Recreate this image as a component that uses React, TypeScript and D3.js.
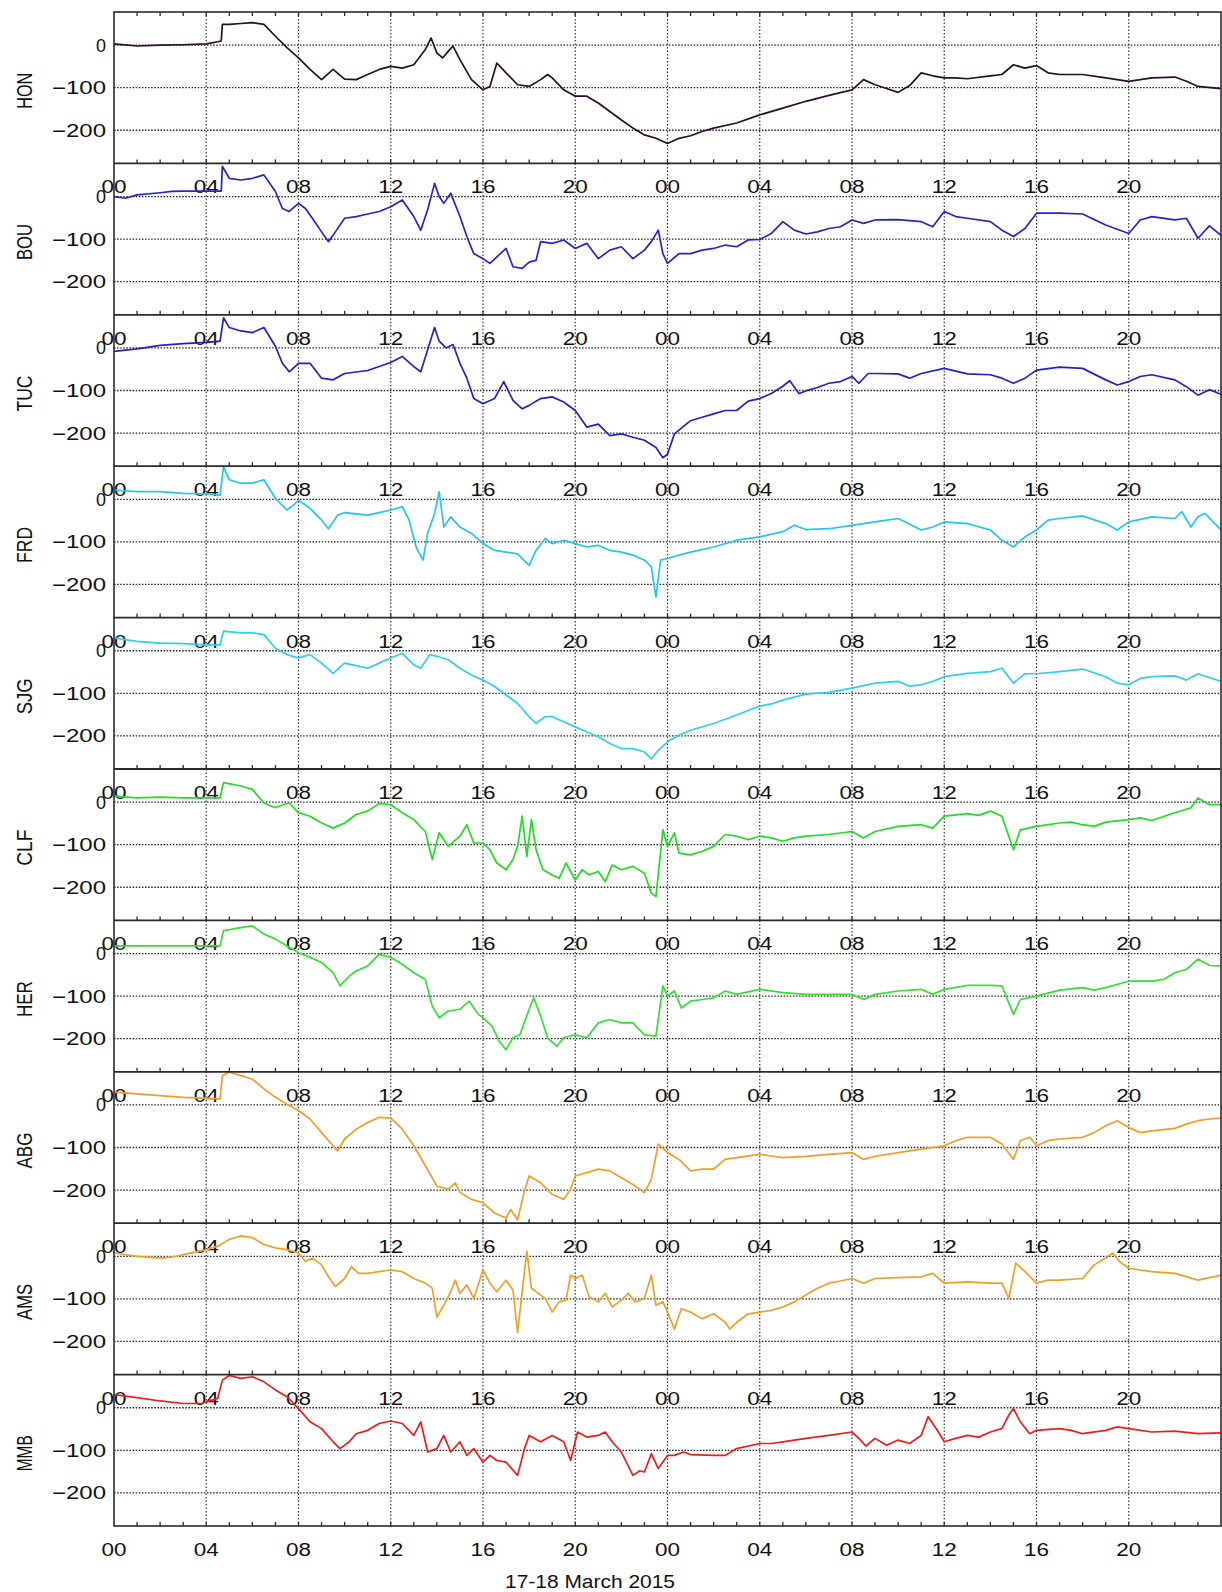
import React from 'react';
import * as d3 from 'd3';

// Magnetometer H-component disturbance (nT) at ten stations, 17–18 March 2015.
// Each series: [hour since 00 UT on 17 March, value].

const HOUR_TICKS = [0, 4, 8, 12, 16, 20, 24, 28, 32, 36, 40, 44];
const HOUR_LABELS = ['00', '04', '08', '12', '16', '20', '00', '04', '08', '12', '16', '20'];
const Y_TICKS = [0, -100, -200];
const Y_LABELS = ['0', '\u2212100', '\u2212200'];
const STATIONS = ['HON', 'BOU', 'TUC', 'FRD', 'SJG', 'CLF', 'HER', 'ABG', 'AMS', 'MMB'];
const COLORS = ['#2a0f2a', '#2424d4', '#2222c8', '#22c8e8', '#30d0e8', '#22dd22', '#33e033', '#f0a028', '#f0a028', '#ee1c1c'];
const TITLE = '17-18 March 2015';

const HON: [number, number][] = [
  [0, 3], [1, -2], [2, 0], [3, 1], [4, 3], [4.5, 8], [4.65, 10], [4.7, 49], [5, 49], [5.5, 51], [6, 53], [6.5, 49],
  [7, 21], [7.5, -6], [8, -30], [8.5, -57], [9, -81], [9.5, -57], [10, -80], [10.5, -81], [11, -69], [11.5, -57],
  [12, -50], [12.5, -54], [13, -46], [13.5, -10], [13.75, 17], [14, -18], [14.25, -30], [14.5, -14], [14.7, -2],
  [15, -34], [15.5, -81], [16, -105], [16.3, -97], [16.6, -42], [17, -65], [17.5, -93], [18, -97], [18.5, -81],
  [18.8, -69], [19, -77], [19.5, -105], [20, -120], [20.5, -120], [21, -136], [21.5, -156], [22, -176], [22.5, -195],
  [23, -211], [23.5, -219], [24, -231], [24.5, -219], [25, -213], [25.5, -203], [26, -195], [27, -183], [28, -164],
  [29, -148], [30, -132], [31, -118], [32, -105], [32.5, -81], [33, -93], [33.5, -102], [34, -111], [34.5, -95],
  [35, -65], [35.5, -72], [36, -77], [36.5, -77], [37, -79], [38, -72], [38.5, -69], [39, -46], [39.5, -54],
  [40, -48], [40.5, -65], [41, -69], [42, -69], [43, -77], [44, -85], [45, -77], [46, -75], [46.5, -85], [47, -97], [48, -102],
];

const BOU: [number, number][] = [
  [0, 0], [0.5, -4], [1, 4], [2, 9], [2.5, 12], [3, 13], [4, 13], [4.65, 13], [4.7, 71], [5, 43], [5.5, 39], [6, 43],
  [6.5, 51], [7, 12], [7.3, -28], [7.6, -35], [8, -16], [8.3, -28], [8.6, -51], [9, -83], [9.3, -106], [9.6, -83],
  [10, -51], [10.5, -47], [11, -41], [11.5, -35], [12, -24], [12.5, -8], [13, -47], [13.3, -79], [13.6, -31],
  [13.9, 31], [14.1, 0], [14.3, -16], [14.6, 8], [15, -47], [15.3, -94], [15.6, -134], [16, -146], [16.3, -157],
  [16.6, -142], [17, -122], [17.3, -165], [17.7, -169], [18, -154], [18.3, -150], [18.5, -106], [19, -110],
  [19.5, -102], [20, -122], [20.5, -110], [21, -146], [21.5, -126], [22, -118], [22.5, -146], [23, -126],
  [23.3, -106], [23.6, -79], [23.8, -134], [24, -157], [24.5, -134], [25, -134], [25.5, -126], [26, -122],
  [26.5, -114], [27, -118], [27.5, -102], [28, -101], [28.5, -87], [29, -59], [29.5, -79], [30, -88], [30.5, -83],
  [31, -75], [31.5, -71], [32, -55], [32.5, -63], [33, -55], [34, -54], [35, -59], [35.5, -71], [36, -35],
  [36.5, -47], [37, -51], [38, -59], [38.5, -79], [39, -94], [39.5, -75], [40, -39], [41, -39], [42, -41],
  [43, -67], [43.5, -77], [44, -87], [44.5, -55], [45, -47], [46, -55], [46.5, -51], [47, -98], [47.5, -69], [48, -91],
];

const TUC: [number, number][] = [
  [0, -8], [1, -2], [2, 6], [3, 10], [4, 13], [4.6, 16], [4.75, 71], [5, 48], [5.5, 40], [6, 36], [6.5, 48], [7, 4],
  [7.3, -36], [7.6, -56], [8, -36], [8.5, -36], [9, -71], [9.5, -75], [10, -60], [11, -53], [12, -34], [12.5, -20],
  [13, -44], [13.3, -56], [13.6, -4], [13.9, 48], [14.1, 16], [14.4, 0], [14.7, 8], [15, -36], [15.3, -71],
  [15.6, -119], [16, -131], [16.5, -119], [16.9, -79], [17.3, -123], [17.7, -143], [18, -135], [18.5, -119],
  [19, -115], [19.5, -127], [20, -147], [20.5, -186], [21, -179], [21.5, -206], [22, -202], [22.5, -210],
  [23, -217], [23.5, -234], [23.8, -258], [24, -250], [24.3, -202], [25, -171], [25.5, -163], [26, -155],
  [26.5, -147], [27, -147], [27.5, -125], [28, -119], [28.5, -107], [29, -90], [29.3, -77], [29.7, -107],
  [30, -101], [30.5, -93], [31, -83], [31.5, -79], [32, -67], [32.3, -83], [32.7, -60], [33, -60], [34, -61],
  [34.5, -71], [35, -60], [36, -48], [37, -61], [38, -63], [38.5, -71], [39, -83], [39.5, -71], [40, -52],
  [41, -45], [42, -48], [43, -75], [43.5, -87], [44, -79], [44.5, -67], [45, -63], [46, -75], [46.5, -91],
  [47, -111], [47.5, -98], [48, -109],
];

const FRD: [number, number][] = [
  [0, 22], [1, 18], [2, 18], [3, 14], [4, 13], [4.6, 10], [4.75, 77], [5, 46], [5.5, 38], [6, 38], [6.5, 46],
  [7, 2], [7.5, -25], [7.8, -13], [8, -2], [8.5, -21], [9, -49], [9.3, -69], [9.7, -37], [10, -31], [11, -37],
  [11.5, -31], [12, -25], [12.5, -17], [12.8, -49], [13.1, -112], [13.4, -143], [13.6, -80], [13.9, -33],
  [14.1, 18], [14.3, -65], [14.6, -41], [15, -65], [15.5, -80], [16, -104], [16.5, -120], [17, -124], [17.5, -128],
  [18, -155], [18.3, -120], [18.7, -92], [19, -104], [19.5, -96], [20, -104], [20.5, -112], [21, -108],
  [21.5, -120], [22, -124], [22.5, -131], [23, -143], [23.3, -159], [23.5, -230], [23.7, -143], [24, -139],
  [24.5, -131], [25, -124], [26, -112], [27, -96], [28, -88], [29, -76], [29.5, -61], [30, -71], [31, -69],
  [32, -61], [33, -53], [34, -45], [35, -72], [35.5, -65], [36, -53], [37, -57], [38, -72], [38.5, -96],
  [39, -112], [39.5, -88], [40, -72], [40.5, -49], [41, -45], [42, -39], [43, -57], [43.5, -72], [44, -53],
  [45, -41], [46, -45], [46.3, -29], [46.7, -65], [47, -41], [47.3, -33], [48, -72],
];

const SJG: [number, number][] = [
  [0, 30], [1, 22], [2, 18], [3, 17], [4, 14], [4.6, 14], [4.75, 46], [5.5, 42], [6, 42], [6.5, 38], [7, 6],
  [7.5, -9], [8, -17], [8.5, -9], [9, -29], [9.5, -53], [10, -29], [10.5, -35], [11, -41], [11.5, -29], [12, -17],
  [12.5, -6], [13, -33], [13.3, -41], [13.7, -9], [14, -13], [14.5, -21], [15, -41], [15.5, -57], [16, -69],
  [16.5, -84], [17, -104], [17.5, -124], [18, -155], [18.3, -171], [18.7, -155], [19, -155], [19.5, -167],
  [20, -179], [20.5, -191], [21, -202], [21.5, -218], [22, -230], [22.5, -230], [23, -238], [23.3, -254],
  [23.6, -234], [24, -214], [24.5, -198], [25, -187], [26, -171], [27, -151], [28, -130], [28.5, -125],
  [29, -116], [30, -102], [31, -98], [32, -88], [33, -76], [34, -72], [34.5, -83], [35, -80], [35.5, -72],
  [36, -61], [37, -53], [38, -49], [38.5, -41], [39, -76], [39.5, -54], [40, -54], [41, -49], [42, -43],
  [43, -61], [43.5, -76], [44, -80], [44.5, -65], [45, -61], [46, -59], [46.5, -69], [47, -54], [48, -72],
];

const CLF: [number, number][] = [
  [0, 14], [1, 10], [2, 12], [3, 10], [4, 10], [4.6, 10], [4.75, 46], [5.5, 38], [6, 30], [6.5, -2], [7, -13],
  [7.3, -6], [7.6, -2], [8, -25], [8.5, -33], [9, -49], [9.5, -61], [10, -49], [10.5, -29], [11, -21], [11.5, -3],
  [12, -6], [12.5, -25], [13, -41], [13.5, -69], [13.8, -135], [14.1, -72], [14.5, -104], [15, -80], [15.3, -53],
  [15.6, -96], [16, -96], [16.3, -112], [16.6, -143], [17, -159], [17.3, -135], [17.5, -104], [17.7, -33],
  [17.9, -128], [18.1, -41], [18.3, -112], [18.6, -159], [19, -171], [19.3, -179], [19.6, -143], [20, -183],
  [20.3, -159], [20.6, -171], [21, -163], [21.3, -187], [21.6, -148], [22, -159], [22.5, -151], [23, -167],
  [23.3, -214], [23.5, -222], [23.8, -65], [24, -104], [24.3, -72], [24.5, -120], [25, -124], [25.5, -116],
  [26, -104], [26.5, -76], [27, -80], [27.5, -88], [28, -80], [28.5, -84], [29, -92], [29.5, -84], [30, -80],
  [31, -76], [32, -69], [32.5, -84], [33, -69], [34, -57], [35, -53], [35.5, -61], [36, -33], [37, -27],
  [37.5, -31], [38, -21], [38.5, -33], [39, -112], [39.3, -65], [40, -57], [41, -49], [41.5, -47], [42, -53],
  [42.5, -57], [43, -47], [44, -41], [44.5, -37], [45, -43], [46, -25], [46.7, -13], [47, 10], [47.5, -6], [48, -6],
];

const HER: [number, number][] = [
  [0, 18], [1, 18], [2, 18], [3, 18], [4, 18], [4.6, 18], [4.75, 54], [5.5, 61], [6, 65], [6.5, 46], [7, 34],
  [7.5, 18], [8, 2], [8.5, -9], [9, -21], [9.5, -45], [9.8, -76], [10.2, -53], [10.5, -41], [11, -29], [11.5, -2],
  [12, -9], [12.5, -25], [13, -45], [13.5, -61], [13.8, -124], [14.1, -151], [14.5, -135], [15, -131],
  [15.4, -112], [15.8, -143], [16, -151], [16.4, -171], [16.7, -206], [17, -226], [17.3, -198], [17.6, -191],
  [18, -131], [18.2, -104], [18.5, -147], [18.8, -198], [19.2, -218], [19.5, -198], [20, -191], [20.5, -198],
  [21, -163], [21.5, -155], [22, -163], [22.5, -163], [23, -191], [23.5, -194], [23.8, -76], [24, -100],
  [24.3, -88], [24.6, -128], [25, -112], [25.5, -108], [26, -104], [26.5, -88], [27, -96], [28, -84], [29, -92],
  [30, -96], [31, -96], [32, -96], [32.5, -108], [33, -96], [34, -88], [35, -84], [35.5, -96], [36, -84],
  [37, -75], [38, -75], [38.5, -76], [39, -143], [39.3, -108], [40, -100], [41, -86], [42, -80], [42.5, -86],
  [43, -80], [44, -65], [45, -65], [45.5, -61], [46, -45], [46.5, -37], [47, -13], [47.5, -28], [48, -29],
];

const ABG: [number, number][] = [
  [0, 30], [1, 26], [2, 22], [3, 18], [4, 16], [4.6, 14], [4.7, 69], [5, 77], [5.5, 69], [6, 61], [6.5, 38],
  [7, 18], [7.5, 2], [8, -13], [8.5, -33], [9, -65], [9.5, -96], [9.7, -108], [10, -80], [10.5, -57], [11, -41],
  [11.5, -29], [12, -31], [12.5, -57], [13, -96], [13.5, -143], [14, -191], [14.5, -198], [14.8, -183],
  [15, -206], [15.5, -222], [16, -230], [16.5, -254], [17, -266], [17.2, -246], [17.5, -270], [17.8, -202],
  [18, -167], [18.5, -183], [19, -210], [19.5, -222], [19.8, -198], [20, -167], [20.5, -159], [21, -151],
  [21.5, -155], [22, -171], [22.5, -187], [23, -206], [23.3, -175], [23.6, -92], [24, -112], [24.5, -128],
  [25, -155], [25.5, -151], [26, -151], [26.5, -128], [27, -124], [28, -116], [28.5, -120], [29, -124],
  [30, -121], [31, -116], [32, -112], [32.5, -128], [33, -121], [34, -112], [35, -104], [36, -96], [36.5, -84],
  [37, -76], [38, -76], [38.5, -92], [39, -128], [39.3, -84], [39.7, -76], [40, -96], [40.5, -84], [41, -80],
  [42, -76], [42.5, -65], [43, -49], [43.5, -37], [44, -53], [44.5, -65], [45, -61], [46, -55], [46.5, -45],
  [47, -37], [47.5, -33], [48, -31],
];

const AMS: [number, number][] = [
  [0, 8], [1, 0], [2, -4], [2.5, -2], [3, 4], [4, 16], [4.5, 24], [5, 40], [5.5, 48], [6, 44], [6.5, 28], [7, 20],
  [7.5, 16], [8, 8], [8.3, -12], [8.6, -4], [9, -20], [9.3, -48], [9.6, -71], [10, -52], [10.3, -24], [10.6, -40],
  [11, -40], [11.5, -36], [12, -32], [12.5, -36], [13, -52], [13.5, -63], [13.8, -75], [14, -143], [14.3, -115],
  [14.6, -83], [14.8, -56], [15, -87], [15.3, -67], [15.6, -99], [16, -32], [16.3, -63], [16.6, -83], [17, -56],
  [17.3, -79], [17.5, -179], [17.7, -83], [17.9, 12], [18.1, -75], [18.4, -87], [18.7, -99], [19, -131],
  [19.3, -107], [19.6, -103], [19.8, -44], [20, -52], [20.3, -44], [20.6, -95], [21, -107], [21.3, -87],
  [21.6, -119], [22, -103], [22.3, -87], [22.6, -107], [23, -99], [23.3, -44], [23.5, -115], [23.8, -107],
  [24, -131], [24.3, -171], [24.6, -123], [25, -131], [25.5, -147], [26, -135], [26.5, -155], [26.7, -171],
  [27, -155], [27.5, -135], [28, -131], [28.5, -127], [29, -119], [29.5, -107], [30, -91], [30.5, -75],
  [31, -63], [31.5, -58], [32, -52], [32.5, -63], [33, -52], [34, -50], [35, -48], [35.5, -40], [36, -63],
  [37, -60], [38, -63], [38.5, -63], [38.8, -99], [39.1, -16], [39.5, -36], [40, -63], [40.5, -56], [41, -56],
  [42, -52], [42.5, -20], [43, -4], [43.3, 8], [43.6, -12], [44, -28], [45, -36], [46, -40], [47, -56], [48, -44],
];

const MMB: [number, number][] = [
  [0, 31], [1, 24], [2, 16], [3, 10], [3.8, 10], [4, 14], [4.5, 22], [4.7, 65], [5, 76], [5.5, 69], [6, 73],
  [6.5, 61], [7, 42], [7.5, 26], [8, -2], [8.5, -33], [9, -49], [9.5, -80], [9.8, -96], [10.2, -80], [10.5, -61],
  [11, -53], [11.5, -37], [12, -31], [12.5, -37], [13, -65], [13.3, -33], [13.6, -104], [14, -96], [14.3, -65],
  [14.6, -104], [15, -80], [15.3, -112], [15.6, -96], [16, -128], [16.3, -112], [16.6, -124], [17, -128],
  [17.5, -159], [17.8, -96], [18, -65], [18.5, -80], [19, -65], [19.5, -80], [19.8, -124], [20.1, -57],
  [20.5, -69], [21, -65], [21.3, -57], [21.6, -80], [22, -104], [22.5, -159], [22.8, -148], [23, -151],
  [23.3, -108], [23.6, -143], [24, -112], [24.3, -112], [24.7, -104], [25, -110], [26, -112], [26.5, -112],
  [27, -96], [28, -84], [28.5, -84], [29, -80], [30, -72], [31, -65], [32, -57], [32.3, -72], [32.6, -90],
  [33, -72], [33.5, -88], [34, -76], [34.5, -84], [35, -65], [35.3, -21], [35.7, -53], [36, -80], [36.5, -72],
  [37, -65], [37.5, -69], [38, -57], [38.5, -49], [38.8, -17], [39, -2], [39.3, -33], [39.7, -61], [40, -53],
  [41, -49], [41.5, -53], [42, -61], [43, -53], [43.5, -45], [44, -49], [45, -57], [46, -55], [47, -61], [48, -59],
];

const SERIES = [HON, BOU, TUC, FRD, SJG, CLF, HER, ABG, AMS, MMB];

const WIDTH = 1222;
const HEIGHT = 1592;
const PLOT_LEFT = 114;
const PLOT_RIGHT = 1221;
const PLOT_TOP = 12;
const PANEL_H = 151.4;
const Y_DOMAIN: [number, number] = [-278, 78];
const FONT = "'Liberation Sans', Arial, Helvetica, sans-serif";
const AXIS_COLOR = '#2b2b2b';

export default function App() {
  const x = d3.scaleLinear().domain([0, 48]).range([PLOT_LEFT, PLOT_RIGHT]);
  const hours = d3.range(1, 48);
  const n = STATIONS.length;
  const plotBottom = PLOT_TOP + n * PANEL_H;

  const panels = STATIONS.map((name, i) => {
    const top = PLOT_TOP + i * PANEL_H;
    const bottom = top + PANEL_H;
    const y = d3.scaleLinear().domain(Y_DOMAIN).range([bottom, top]);
    const line = d3
      .line<[number, number]>()
      .x((d) => x(d[0]))
      .y((d) => y(d[1]));
    const clipId = `clip-${name}`;
    return (
      <g key={name}>
        <defs>
          <clipPath id={clipId}>
            <rect x={PLOT_LEFT} y={top} width={PLOT_RIGHT - PLOT_LEFT} height={PANEL_H} />
          </clipPath>
        </defs>
        {/* dotted grid */}
        {Y_TICKS.map((v) => (
          <line
            key={`h${v}`}
            x1={PLOT_LEFT}
            x2={PLOT_RIGHT}
            y1={y(v)}
            y2={y(v)}
            stroke="#222"
            strokeWidth={1.3}
            strokeDasharray="1.5,1.6"
          />
        ))}
        {HOUR_TICKS.filter((h) => h > 0).map((h) => (
          <line
            key={`v${h}`}
            x1={x(h)}
            x2={x(h)}
            y1={top}
            y2={bottom}
            stroke="#333"
            strokeWidth={1.2}
            strokeDasharray="1.5,2"
          />
        ))}
        {/* hourly minor ticks on the lower edge */}
        {hours.map((h) => (
          <line key={`t${h}`} x1={x(h)} x2={x(h)} y1={bottom} y2={bottom - 4} stroke={AXIS_COLOR} strokeWidth={1.3} />
        ))}
        {i === 0 &&
          hours.map((h) => (
            <line key={`tt${h}`} x1={x(h)} x2={x(h)} y1={top} y2={top + 4} stroke={AXIS_COLOR} strokeWidth={1.3} />
          ))}
        <path
          d={line(SERIES[i]) ?? ''}
          fill="none"
          stroke={COLORS[i]}
          strokeWidth={1.7}
          strokeLinejoin="round"
          clipPath={`url(#${clipId})`}
        />
        {/* y tick labels */}
        {Y_TICKS.map((v, k) => (
          <text
            key={`yl${v}`}
            x={106}
            y={y(v) + 6.5}
            textAnchor="end"
            fontFamily={FONT}
            fontSize={18}
            fill="#111"
            textLength={v === 0 ? 10 : 54}
            lengthAdjust="spacingAndGlyphs"
          >
            {Y_LABELS[k]}
          </text>
        ))}
        {/* station name */}
        <text
          transform={`translate(32, ${top + PANEL_H / 2 + 3}) rotate(-90)`}
          textAnchor="middle"
          fontFamily={FONT}
          fontSize={22}
          fill="#111"
          textLength={name.length * 12}
          lengthAdjust="spacingAndGlyphs"
        >
          {name}
        </text>
        {/* hour labels beneath this panel's axis */}
        {HOUR_TICKS.map((h, k) => (
          <text
            key={`xl${h}`}
            x={x(h)}
            y={bottom + 30}
            textAnchor="middle"
            fontFamily={FONT}
            fontSize={18}
            fill="#111"
            textLength={25}
            lengthAdjust="spacingAndGlyphs"
          >
            {HOUR_LABELS[k]}
          </text>
        ))}
      </g>
    );
  });

  return (
    <div style={{ position: 'absolute', left: 0, top: 0, width: WIDTH, height: HEIGHT, background: '#fff' }}>
      <svg width={WIDTH} height={HEIGHT} viewBox={`0 0 ${WIDTH} ${HEIGHT}`} style={{ display: 'block' }}>
        <rect width={WIDTH} height={HEIGHT} fill="#fff" />
        {panels}
        {/* frame and panel dividers */}
        <rect
          x={PLOT_LEFT}
          y={PLOT_TOP}
          width={PLOT_RIGHT - PLOT_LEFT}
          height={plotBottom - PLOT_TOP}
          fill="none"
          stroke={AXIS_COLOR}
          strokeWidth={1.6}
        />
        {d3.range(1, n).map((i) => (
          <line
            key={`div${i}`}
            x1={PLOT_LEFT}
            x2={PLOT_RIGHT}
            y1={PLOT_TOP + i * PANEL_H}
            y2={PLOT_TOP + i * PANEL_H}
            stroke={AXIS_COLOR}
            strokeWidth={1.8}
          />
        ))}
        <text
          x={590}
          y={1588}
          textAnchor="middle"
          fontFamily={FONT}
          fontSize={19}
          fill="#111"
          textLength={170}
          lengthAdjust="spacingAndGlyphs"
        >
          {TITLE}
        </text>
      </svg>
    </div>
  );
}
